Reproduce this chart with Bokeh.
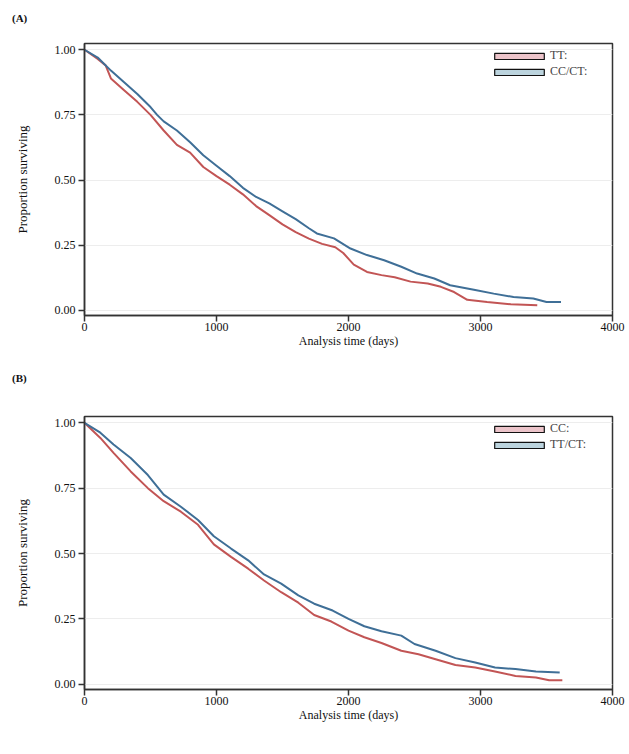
from bokeh.plotting import figure
from bokeh.layouts import column
from bokeh.models import Range1d, FixedTicker, NumeralTickFormatter, Legend, LegendItem, Div
from bokeh.embed import file_html
from bokeh.resources import INLINE

FONT = "Liberation Serif"

# Panel A: TT vs CC/CT
a_tt_time = [0, 100, 160, 200, 300, 400, 500, 600, 700, 800, 900, 1000, 1100, 1200, 1300,
             1400, 1500, 1600, 1700, 1800, 1900, 1960, 2040, 2140, 2250, 2350, 2470, 2600,
             2700, 2800, 2900, 3050, 3230, 3430]
a_tt_surv = [1.0, 0.965, 0.94, 0.89, 0.845, 0.80, 0.75, 0.69, 0.635, 0.605, 0.55, 0.515, 0.482,
             0.445, 0.40, 0.365, 0.33, 0.30, 0.275, 0.255, 0.242, 0.22, 0.175, 0.147, 0.135,
             0.127, 0.11, 0.103, 0.09, 0.07, 0.04, 0.032, 0.023, 0.019]
a_cc_time = [0, 100, 200, 300, 400, 500, 550, 600, 700, 800, 900, 1000, 1100, 1200, 1300,
             1400, 1500, 1600, 1700, 1760, 1890, 2015, 2140, 2270, 2400, 2520, 2650, 2770,
             2950, 3100, 3250, 3400, 3500, 3610]
a_cc_surv = [1.0, 0.97, 0.92, 0.875, 0.83, 0.78, 0.75, 0.725, 0.69, 0.645, 0.595, 0.555, 0.515,
             0.47, 0.435, 0.41, 0.38, 0.35, 0.315, 0.295, 0.276, 0.237, 0.212, 0.192, 0.167,
             0.141, 0.122, 0.096, 0.079, 0.064, 0.051, 0.045, 0.032, 0.032]

# Panel B: CC vs TT/CT
b_cc_time = [0, 120, 220, 350, 480, 600, 730, 860, 980, 1110, 1240, 1360, 1490, 1620, 1740,
             1870, 2000, 2120, 2250, 2400, 2530, 2660, 2810, 2960, 3110, 3265, 3420, 3520, 3620]
b_cc_surv = [1.0, 0.942, 0.885, 0.814, 0.75, 0.70, 0.66, 0.61, 0.535, 0.487, 0.442, 0.397,
             0.352, 0.312, 0.265, 0.24, 0.205, 0.18, 0.158, 0.128, 0.115, 0.096, 0.074, 0.064,
             0.049, 0.032, 0.026, 0.015, 0.015]
b_tt_time = [0, 120, 220, 350, 480, 600, 730, 860, 980, 1110, 1240, 1360, 1490, 1620, 1740,
             1880, 2000, 2120, 2250, 2400, 2500, 2660, 2810, 2960, 3110, 3265, 3420, 3600]
b_tt_surv = [1.0, 0.962, 0.917, 0.865, 0.80, 0.725, 0.679, 0.628, 0.566, 0.519, 0.474, 0.42,
             0.385, 0.34, 0.308, 0.282, 0.25, 0.222, 0.203, 0.186, 0.154, 0.128, 0.10, 0.083,
             0.064, 0.058, 0.049, 0.045]

x_ticks = [0, 1000, 2000, 3000, 4000]
y_ticks = [0.0, 0.25, 0.5, 0.75, 1.0]

RED = "#c25555"
BLUE = "#3f6f97"
RED_TINT = "#ecc4ca"
BLUE_TINT = "#bcd4de"
NAN = float("nan")


def make_tag(tag, pad_top):
    return Div(text=tag, width=629, height=30, margin=0,
               styles={"font-family": FONT, "font-size": "11px", "font-weight": "bold",
                       "line-height": "14px", "padding-left": "12px",
                       "padding-top": f"{pad_top}px", "color": "#111111",
                       "box-sizing": "border-box"})


def make_panel(series, height, btop, bbottom):
    p = figure(width=629, height=height, output_backend="svg", toolbar_location=None,
               x_range=Range1d(0, 4000), y_range=Range1d(-0.02, 1.024),
               min_border_left=84, min_border_right=17,
               min_border_top=btop, min_border_bottom=bbottom)

    items = []
    for t, s, lab, col, tint in series:
        p.line(t, s, line_color=col, line_width=2)
        box = p.rect(x=[NAN], y=[NAN], width=1, height=1, fill_color=tint,
                     line_color="#111111", line_width=1.2)
        items.append(LegendItem(label=lab, renderers=[box]))
    leg = Legend(items=items, location="top_right")
    leg.label_text_font = FONT
    leg.label_text_font_size = "12px"
    leg.label_text_align = "right"
    leg.glyph_width = 62
    leg.glyph_height = 8
    leg.label_height = 8
    leg.label_standoff = -60
    leg.label_width = 57
    leg.spacing = 1
    leg.padding = 2
    leg.margin = 3
    leg.border_line_alpha = 0
    leg.background_fill_alpha = 0
    p.add_layout(leg)

    p.xaxis.ticker = FixedTicker(ticks=x_ticks)
    p.yaxis.ticker = FixedTicker(ticks=y_ticks)
    p.yaxis.formatter = NumeralTickFormatter(format="0.00")
    p.xaxis.axis_label = "Analysis time (days)"
    p.yaxis.axis_label = "Proportion surviving"
    for ax in (p.xaxis, p.yaxis):
        ax.axis_label_text_font = FONT
        ax.axis_label_text_font_style = "normal"
        ax.major_label_text_font = FONT
        ax.major_label_text_font_size = "12px"
        ax.major_tick_in = 0
        ax.major_tick_out = 6
        ax.minor_tick_line_color = None
        ax.axis_line_color = "#333333"
        ax.axis_line_width = 1.5
        ax.major_tick_line_color = "#333333"
        ax.major_tick_line_width = 1.5
        ax.major_label_text_color = "#111111"
        ax.axis_label_text_color = "#111111"
    p.xaxis.axis_label_text_font_size = "12px"
    p.yaxis.axis_label_text_font_size = "13px"
    p.xaxis.major_label_standoff = 1
    p.xaxis.axis_label_standoff = 0
    p.yaxis.major_label_standoff = 3
    p.yaxis.axis_label_standoff = 22
    p.xgrid.grid_line_color = None
    p.ygrid.grid_line_color = "#ededed"
    p.ygrid.grid_line_width = 1
    p.outline_line_color = "#333333"
    p.outline_line_width = 1.5
    p.outline_line_alpha = 1
    return p


tag_a = make_tag("(A)", 11)
pa = make_panel([(a_tt_time, a_tt_surv, "TT:", RED, RED_TINT),
                 (a_cc_time, a_cc_surv, "CC/CT:", BLUE, BLUE_TINT)], 338, 13, 53)
tag_b = make_tag("(B)", 3)
pb = make_panel([(b_cc_time, b_cc_surv, "CC:", RED, RED_TINT),
                 (b_tt_time, b_tt_surv, "TT/CT:", BLUE, BLUE_TINT)], 332, 18, 41)

layout = column(tag_a, pa, tag_b, pb, spacing=0)
open("out.html", "w").write(file_html(layout, INLINE))
